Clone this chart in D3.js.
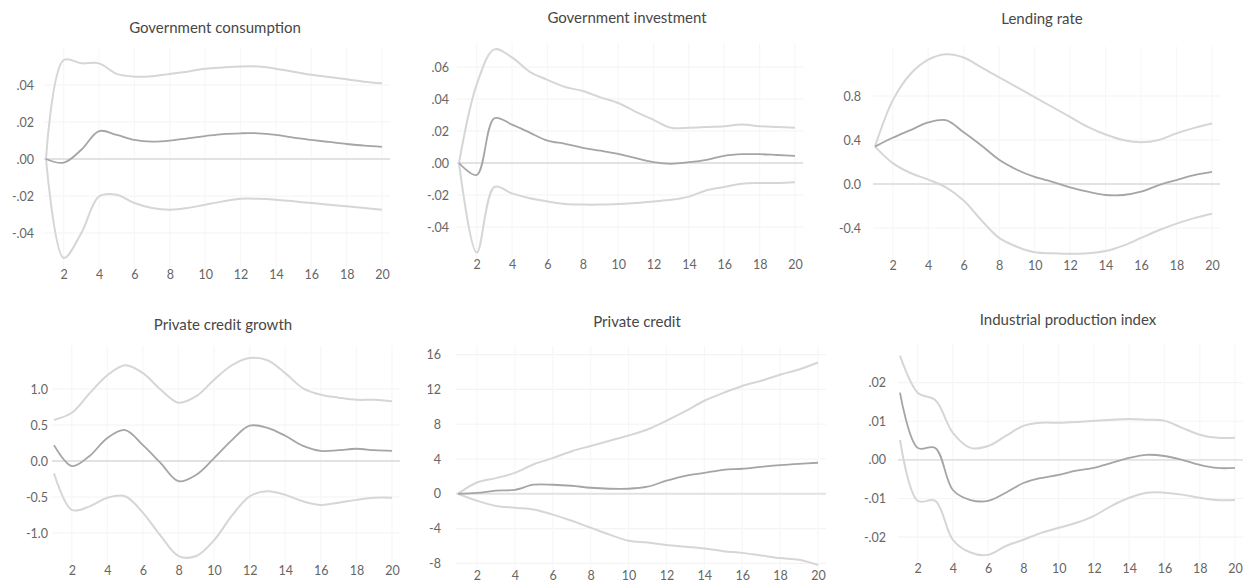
<!DOCTYPE html>
<html>
<head>
<meta charset="utf-8">
<script src="https://cdn.jsdelivr.net/npm/d3@7/dist/d3.min.js"></script>
<style>
  html, body { margin: 0; padding: 0; background: #ffffff; }
  svg { display: block; }
  .title { font-family: Lato, "Open Sans", sans-serif; font-size: 15px; fill: #474747; text-anchor: middle; }
  .tick text { font-family: Lato, "Open Sans", sans-serif; font-size: 12.5px; fill: #666666; }
</style>
</head>
<body>
<svg id="chart" width="1255" height="586"></svg>
<script>
// Impulse responses: median with upper and lower bands, horizons 1..20
const periods = [1, 2, 3, 4, 5, 6, 7, 8, 9, 10, 11, 12, 13, 14, 15, 16, 17, 18, 19, 20];
const xTickValues = [2, 4, 6, 8, 10, 12, 14, 16, 18, 20];

const titles = [
  "Government consumption",
  "Government investment",
  "Lending rate",
  "Private credit growth",
  "Private credit",
  "Industrial production index"
];

// Government consumption
const govConsMid   = [0.000, -0.002, 0.005, 0.0151, 0.013, 0.0103, 0.0094, 0.0099, 0.0112, 0.0124, 0.0135, 0.0139, 0.0139, 0.0130, 0.0115, 0.0103, 0.0092, 0.0081, 0.0072, 0.0066];
const govConsUpper = [0.000, 0.0535, 0.0517, 0.0517, 0.046, 0.0445, 0.0447, 0.046, 0.0472, 0.0488, 0.0495, 0.050, 0.050, 0.0488, 0.0472, 0.0455, 0.0443, 0.0431, 0.0418, 0.0409];
const govConsLower = [0.000, -0.0535, -0.040, -0.0202, -0.0193, -0.0238, -0.0265, -0.0274, -0.0265, -0.0247, -0.0229, -0.0215, -0.0215, -0.022, -0.0229, -0.0238, -0.0247, -0.0256, -0.0265, -0.0274];
const govConsTicks = [-0.04, -0.02, 0, 0.02, 0.04];
const govConsTickLabels = ["-.04", "-.02", ".00", ".02", ".04"];

// Government investment
const govInvMid   = [0.000, -0.0075, 0.028, 0.024, 0.019, 0.014, 0.012, 0.0095, 0.0077, 0.0057, 0.003, 0.0005, -0.0005, 0.0005, 0.002, 0.0045, 0.0055, 0.0055, 0.005, 0.0045];
const govInvUpper = [0.000, 0.049, 0.071, 0.066, 0.057, 0.052, 0.0475, 0.045, 0.041, 0.0375, 0.032, 0.027, 0.022, 0.022, 0.0225, 0.023, 0.024, 0.023, 0.0225, 0.022];
const govInvLower = [0.000, -0.056, -0.015, -0.019, -0.022, -0.024, -0.0256, -0.026, -0.026, -0.0256, -0.025, -0.024, -0.023, -0.021, -0.017, -0.015, -0.013, -0.0125, -0.0125, -0.012];
const govInvTicks = [-0.04, -0.02, 0, 0.02, 0.04, 0.06];
const govInvTickLabels = ["-.04", "-.02", ".00", ".02", ".04", ".06"];

// Lending rate
const lendMid   = [0.34, 0.42, 0.49, 0.56, 0.58, 0.47, 0.35, 0.22, 0.13, 0.064, 0.02, -0.03, -0.07, -0.10, -0.10, -0.07, -0.01, 0.036, 0.08, 0.11];
const lendUpper = [0.34, 0.76, 1.00, 1.13, 1.18, 1.15, 1.06, 0.97, 0.88, 0.79, 0.70, 0.61, 0.52, 0.45, 0.40, 0.38, 0.40, 0.46, 0.51, 0.55];
const lendLower = [0.34, 0.19, 0.10, 0.04, -0.03, -0.15, -0.33, -0.49, -0.57, -0.62, -0.63, -0.635, -0.63, -0.61, -0.56, -0.49, -0.42, -0.36, -0.31, -0.27];
const lendTicks = [-0.4, 0, 0.4, 0.8];
const lendTickLabels = ["-0.4", "0.0", "0.4", "0.8"];

// Private credit growth
const pcgMid   = [0.22, -0.07, 0.07, 0.32, 0.43, 0.22, -0.03, -0.28, -0.19, 0.04, 0.29, 0.49, 0.46, 0.35, 0.21, 0.14, 0.15, 0.17, 0.15, 0.14];
const pcgUpper = [0.57, 0.67, 0.94, 1.19, 1.33, 1.22, 0.99, 0.81, 0.90, 1.13, 1.33, 1.43, 1.40, 1.22, 1.01, 0.92, 0.88, 0.85, 0.85, 0.83];
const pcgLower = [-0.17, -0.68, -0.63, -0.51, -0.49, -0.72, -1.04, -1.32, -1.32, -1.10, -0.76, -0.49, -0.42, -0.47, -0.56, -0.61, -0.58, -0.54, -0.51, -0.51];
const pcgTicks = [-1.0, -0.5, 0, 0.5, 1.0];
const pcgTickLabels = ["-1.0", "-0.5", "0.0", "0.5", "1.0"];

// Private credit
const pcMid   = [0.0, 0.1, 0.35, 0.46, 1.04, 1.04, 0.92, 0.69, 0.58, 0.58, 0.81, 1.5, 2.07, 2.4, 2.76, 2.88, 3.1, 3.3, 3.45, 3.57];
const pcUpper = [0.0, 1.3, 1.8, 2.4, 3.4, 4.1, 4.9, 5.5, 6.1, 6.7, 7.4, 8.4, 9.5, 10.7, 11.6, 12.4, 13.0, 13.7, 14.3, 15.1];
const pcLower = [0.0, -0.8, -1.4, -1.6, -1.8, -2.4, -3.1, -3.9, -4.7, -5.4, -5.6, -5.9, -6.1, -6.3, -6.6, -6.8, -7.1, -7.4, -7.6, -8.2];
const pcTicks = [-8, -4, 0, 4, 8, 12, 16];
const pcTickLabels = ["-8", "-4", "0", "4", "8", "12", "16"];

// Industrial production index
const ipiMid   = [0.0174, 0.0031, 0.0031, -0.0078, -0.0104, -0.0106, -0.0085, -0.006, -0.0047, -0.0039, -0.0028, -0.0021, -0.0008, 0.0005, 0.0013, 0.001, 0.0, -0.0013, -0.0021, -0.0021];
const ipiUpper = [0.027, 0.0174, 0.0155, 0.007, 0.0031, 0.0036, 0.0062, 0.0088, 0.0096, 0.0096, 0.0098, 0.0101, 0.0104, 0.0106, 0.0104, 0.0101, 0.0083, 0.0065, 0.0057, 0.0057];
const ipiLower = [0.0052, -0.0106, -0.0106, -0.0207, -0.024, -0.0246, -0.0223, -0.0207, -0.0189, -0.0176, -0.0163, -0.0145, -0.0119, -0.0098, -0.0085, -0.0085, -0.009, -0.0098, -0.0104, -0.0104];
const ipiTicks = [-0.02, -0.01, 0, 0.01, 0.02];
const ipiTickLabels = ["-.02", "-.01", ".00", ".01", ".02"];

// Panel geometry: x range covers horizons 1..20, y range maps the value domain
const panels = [
  { title: titles[0], mid: govConsMid, upper: govConsUpper, lower: govConsLower, ticks: govConsTicks, labels: govConsTickLabels,
    x: [46, 382], domain: [-0.06, 0.06], y: [270, 48], axisX: 36, tickY: 277, titleX: 215, titleY: 28 },
  { title: titles[1], mid: govInvMid, upper: govInvUpper, lower: govInvLower, ticks: govInvTicks, labels: govInvTickLabels,
    x: [459, 795], domain: [-0.06, 0.075], y: [259, 43], axisX: 451, tickY: 267, titleX: 627, titleY: 18 },
  { title: titles[2], mid: lendMid, upper: lendUpper, lower: lendLower, ticks: lendTicks, labels: lendTickLabels,
    x: [875, 1212], domain: [-0.7, 1.25], y: [261, 46.5], axisX: 863, tickY: 268, titleX: 1042, titleY: 19 },
  { title: titles[3], mid: pcgMid, upper: pcgUpper, lower: pcgLower, ticks: pcgTicks, labels: pcgTickLabels,
    x: [54, 392], domain: [-1.5, 1.6], y: [569, 345.8], axisX: 50, tickY: 573, titleX: 223, titleY: 325 },
  { title: titles[4], mid: pcMid, upper: pcUpper, lower: pcLower, ticks: pcTicks, labels: pcTickLabels,
    x: [458, 818], domain: [-9, 17], y: [572, 346], axisX: 443, tickY: 578, titleX: 637, titleY: 322 },
  { title: titles[5], mid: ipiMid, upper: ipiUpper, lower: ipiLower, ticks: ipiTicks, labels: ipiTickLabels,
    x: [900, 1235], domain: [-0.028, 0.03], y: [568, 344], axisX: 888, tickY: 571, titleX: 1068, titleY: 320 }
];

const svg = d3.select("#chart");

panels.forEach(p => {
  const x = d3.scaleLinear().domain([1, 20]).range(p.x);
  const y = d3.scaleLinear().domain(p.domain).range(p.y);
  const g = svg.append("g");
  const left = p.x[0] - 2, right = p.x[1] + 8;

  // faint grid
  g.selectAll(".hgrid").data(p.ticks).join("line")
    .attr("x1", left).attr("x2", right)
    .attr("y1", d => y(d)).attr("y2", d => y(d))
    .attr("stroke", "#f4f4f4").attr("stroke-width", 1.2);
  g.selectAll(".vgrid").data(xTickValues).join("line")
    .attr("x1", d => x(d)).attr("x2", d => x(d))
    .attr("y1", p.y[1]).attr("y2", p.y[0])
    .attr("stroke", "#f7f7f7").attr("stroke-width", 1.2);

  // zero reference line
  g.append("line")
    .attr("x1", left).attr("x2", right)
    .attr("y1", y(0)).attr("y2", y(0))
    .attr("stroke", "#e2e2e2").attr("stroke-width", 1.8);

  const line = d3.line()
    .x((d, i) => x(periods[i]))
    .y(d => y(d))
    .curve(d3.curveCatmullRom.alpha(0.5));

  [p.upper, p.lower].forEach(band => {
    g.append("path").attr("d", line(band))
      .attr("fill", "none").attr("stroke", "#d6d6d6")
      .attr("stroke-width", 2).attr("stroke-linejoin", "round");
  });
  g.append("path").attr("d", line(p.mid))
    .attr("fill", "none").attr("stroke", "#a5a5a5")
    .attr("stroke-width", 1.8).attr("stroke-linejoin", "round");

  // axes
  const yAxis = d3.axisLeft(y).tickValues(p.ticks)
    .tickFormat((d, i) => p.labels[i]).tickSize(0).tickPadding(2);
  svg.append("g").attr("transform", `translate(${p.axisX},0)`).call(yAxis)
    .call(a => a.select(".domain").remove());

  const xAxis = d3.axisBottom(x).tickValues(xTickValues)
    .tickFormat(d3.format("d")).tickSize(0).tickPadding(0);
  svg.append("g").attr("transform", `translate(0,${p.tickY - 7})`).call(xAxis)
    .call(a => a.select(".domain").remove());

  svg.append("text").attr("class", "title")
    .attr("x", p.titleX).attr("y", p.titleY + 5)
    .text(p.title);
});
</script>
</body>
</html>
